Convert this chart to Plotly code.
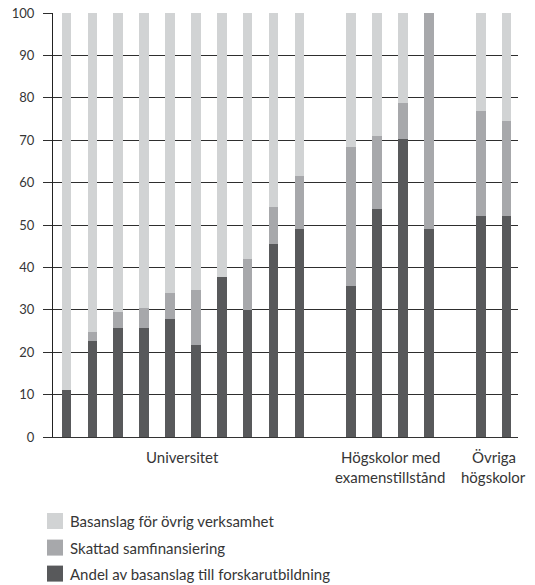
import plotly.graph_objects as go

# Share of base funding (percent) per institution, grouped by institution type
groups = ["Universitet", "Högskolor med<br>examenstillstånd", "Övriga<br>högskolor"]
group_sizes = [10, 4, 2]

andel_forskarutbildning = [11, 22.7, 25.7, 25.7, 27.8, 21.7, 37.7, 29.9, 45.6, 49.1,
                           35.6, 53.7, 70.4, 49.1,
                           52.1, 52.1]
skattad_samfinansiering = [0, 2.0, 3.7, 4.7, 6.2, 12.9, 0, 12.0, 8.7, 12.4,
                           32.8, 17.2, 8.3, 50.9,
                           24.9, 22.4]
ovrig_verksamhet = [100 - a - s for a, s in zip(andel_forskarutbildning, skattad_samfinansiering)]

series_names = ["Andel av basanslag till forskarutbildning",
                "Skattad samfinansiering",
                "Basanslag för övrig verksamhet"]
series_values = [andel_forskarutbildning, skattad_samfinansiering, ovrig_verksamhet]
series_colors = ["#58595b", "#a7a8ab", "#d1d3d4"]

y_ticks = list(range(0, 101, 10))

# x positions: one empty slot between groups
positions, centres = [], []
pos = 0
for size in group_sizes:
    xs = list(range(pos, pos + size))
    positions += xs
    centres.append(sum(xs) / len(xs))
    pos += size + 1

FONT = "Lato"
TXT = "#363636"

fig = go.Figure()
for name, vals, col in zip(series_names, series_values, series_colors):
    fig.add_trace(go.Bar(x=positions, y=vals, name=name, width=0.37,
                         marker=dict(color=col, line=dict(width=0)),
                         showlegend=False))

W, H = 535, 585
L, R, T, B = 52.7, 17, 12.7, 148.3
pw, ph = W - L - R, H - T - B


def px(xp):
    return (xp - L) / pw


def py(yp):
    return (H - B - yp) / ph


fig.update_layout(
    width=W, height=H, barmode="stack",
    margin=dict(l=L, r=R, t=T, b=B, pad=0, autoexpand=False),
    plot_bgcolor="white", paper_bgcolor="white",
    font=dict(family=FONT, size=15, color=TXT),
    xaxis=dict(range=[-0.52, 17.44], showgrid=False, zeroline=False,
               showticklabels=False, ticks="", showline=True,
               linecolor="#333", linewidth=1, automargin=False),
    yaxis=dict(range=[0, 100], tickvals=y_ticks, showgrid=True,
               gridcolor="#2e2e2e", gridwidth=1, zeroline=False,
               ticks="outside", ticklen=9, tickcolor="#2e2e2e", tickwidth=1,
               showline=True, linecolor="#222", linewidth=1,
               automargin=False, ticklabelstandoff=6,
               tickfont=dict(family=FONT, size=13, color=TXT)),
)

# group labels under the axis
for label, c in zip(groups, centres):
    for i, line in enumerate(label.split("<br>")):
        fig.add_annotation(x=c, xref="x", y=0, yref="paper", yanchor="middle",
                           yshift=-20.3 - 19.8 * i, text=line, showarrow=False,
                           font=dict(family=FONT, size=15, color=TXT))

# legend drawn as swatches + labels, light series first
legend_rows = [520.7, 547.3, 573.3]
for yrow, name, col in zip(legend_rows, series_names[::-1], series_colors[::-1]):
    fig.add_shape(type="rect", xref="paper", yref="paper",
                  x0=px(46.7), x1=px(62.7), y0=py(yrow - 8), y1=py(yrow + 8),
                  fillcolor=col, line=dict(width=0))
    fig.add_annotation(x=px(67.5), xref="paper", y=py(yrow), yref="paper",
                       xanchor="left", yanchor="middle", text=name,
                       showarrow=False, font=dict(family=FONT, size=15, color=TXT))

fig.write_html("out.html")
